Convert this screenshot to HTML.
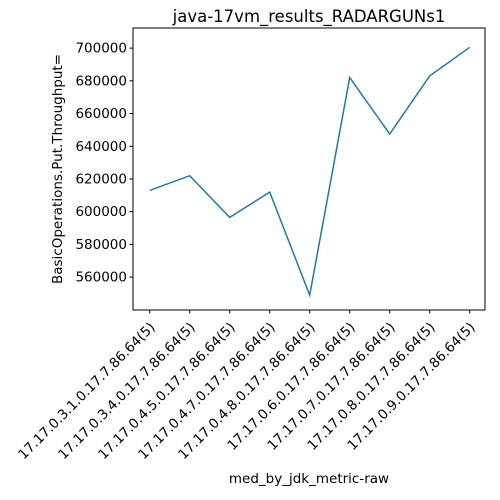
<!DOCTYPE html>
<html><head><meta charset="utf-8"><style>body{margin:0;background:#fff}svg{display:block;font-family:"DejaVu Sans","Liberation Sans",sans-serif}</style></head>
<body>
<svg id="chart" width="500" height="500" viewBox="0 0 500 500"></svg>
<script>
const categories=["17.17.0.3.1.0.17.7.86.64(5)","17.17.0.3.4.0.17.7.86.64(5)","17.17.0.4.5.0.17.7.86.64(5)","17.17.0.4.7.0.17.7.86.64(5)","17.17.0.4.8.0.17.7.86.64(5)","17.17.0.6.0.17.7.86.64(5)","17.17.0.7.0.17.7.86.64(5)","17.17.0.8.0.17.7.86.64(5)","17.17.0.9.0.17.7.86.64(5)"];
const values=[613000,622000,596500,612000,549000,682000,647500,683000,700500];
const yTicks=[560000,580000,600000,620000,640000,660000,680000,700000];
const NS="http://www.w3.org/2000/svg";
const svg=document.getElementById('chart');
const L=133,R=485,T=28,B=310;
const yMin=539900,yMax=712300;
function xs(i){return 149.7+i*(R-L-32)/(categories.length-1);}
function ys(v){return B-(v-yMin)/(yMax-yMin)*(B-T);}
function mk(t,a,txt){const e=document.createElementNS(NS,t);for(const k in a)e.setAttribute(k,a[k]);if(txt!==undefined)e.textContent=txt;svg.appendChild(e);return e;}
let e=mk('rect',{x:L,y:T,width:R-L,height:B-T,fill:'none',stroke:'#000','stroke-width':1});


yTicks.forEach(v=>{const y=ys(v);
 let t=mk('line',{x1:L-3.5,x2:L,y1:y,y2:y,stroke:'#000'});
 
 
 let l=mk('text',{x:L-6,y:y+4.5,'text-anchor':'end','font-size':13.5},String(v));
 
 
});
categories.forEach((c,i)=>{const x=xs(i);
 let t=mk('line',{x1:x,x2:x,y1:B,y2:B+3.5,stroke:'#000'});
 
 
 let l=mk('text',{x:x+6,y:B+18,'text-anchor':'end','font-size':13.5,transform:`rotate(-45 ${x+6} ${B+18})`},c);
 
 
});
let p=mk('polyline',{points:values.map((v,i)=>xs(i)+','+ys(v)).join(' '),fill:'none',stroke:'#1f77b4','stroke-width':1.5});


let ti=mk('text',{x:(L+R)/2,y:22,'text-anchor':'middle','font-size':16.5},'java-17vm_results_RADARGUNs1');


let xt=mk('text',{x:(L+R)/2,y:483,'text-anchor':'middle','font-size':13.5},'med_by_jdk_metric-raw');


let yt=mk('text',{x:62,y:(T+B)/2,'text-anchor':'middle','font-size':13.5,transform:`rotate(-90 62 ${(T+B)/2})`},'BasicOperations.Put.Throughput=');


</script>
</body></html>
